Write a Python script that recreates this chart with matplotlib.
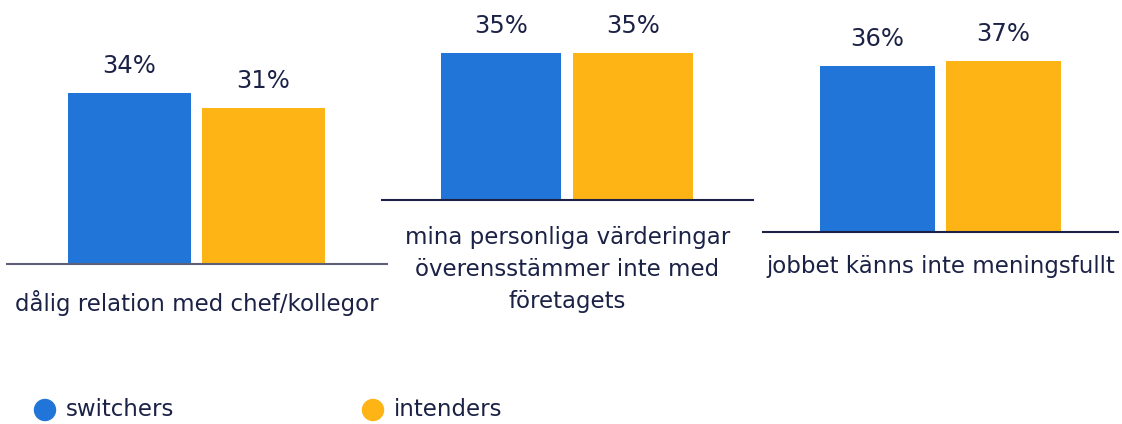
import matplotlib
matplotlib.use("Agg")
import matplotlib.pyplot as plt

# data
categories = ["dålig relation med chef/kollegor",
              "mina personliga värderingar\növerensstämmer inte med\nföretagets",
              "jobbet känns inte meningsfullt"]
series = ["switchers", "intenders"]
switchers = [34, 35, 36]
intenders = [31, 35, 37]

colors = ["#2275d8", "#fdb414"]
text_color = "#1b2246"

plt.rcParams['font.family'] = ['DejaVu Sans']

W, H = 1122, 424
fig = plt.figure(figsize=(W / 100, H / 100), dpi=100)

# panel layout in pixels: left, right, baseline y (from top), px per unit, bar spacing px, bar width px, first bar center
panels = [
    dict(left=7, right=387, base=264, scale=5.03, step=134, bw=123, c0=129.5, lc="#5d6078", gap=26, ls=1.25),
    dict(left=382, right=753, base=200, scale=4.20, step=132, bw=120, c0=501, lc="#1b2246", gap=26, ls=1.5),
    dict(left=763, right=1118, base=232, scale=4.61, step=126, bw=115, c0=877.5, lc="#1b2246", gap=23, ls=1.25),
]

for i, p in enumerate(panels):
    top_px = 20
    h_px = p["base"] - top_px
    ax = fig.add_axes([p["left"] / W, (H - p["base"]) / H, (p["right"] - p["left"]) / W, h_px / H])
    vals = [switchers[i], intenders[i]]
    xs = [0, 1]
    ax.bar(xs, vals, width=p["bw"] / p["step"], color=colors, zorder=2)
    ax.set_xlim((p["left"] - p["c0"]) / p["step"], (p["right"] - p["c0"]) / p["step"])
    ax.set_ylim(0, h_px / p["scale"])
    for x, v in zip(xs, vals):
        ax.annotate(f"{v}%", (x, v), xytext=(0, 11), textcoords="offset points",
                    ha="center", va="bottom", fontsize=17.5, color=text_color)
    ax.annotate(categories[i], (0.5, 0), xycoords="axes fraction",
                xytext=(0, -p["gap"] * 0.72), textcoords="offset points",
                ha="center", va="top", fontsize=16.5, color=text_color, linespacing=p["ls"])
    for s in ["top", "right", "left"]:
        ax.spines[s].set_visible(False)
    ax.spines["bottom"].set_color(p["lc"])
    ax.spines["bottom"].set_linewidth(1.5)
    ax.set_xticks([])
    ax.set_yticks([])
    ax.patch.set_alpha(0)

# legend
leg_x = [45, 373]
for name, col, lx in zip(series, colors, leg_x):
    fig.patches.append(matplotlib.patches.Ellipse((lx / W, (H - 410) / H), 21 / W, 21 / H,
                                                  transform=fig.transFigure, color=col))
    fig.text((lx + 21) / W, (H - 410) / H, name, ha="left", va="center",
             fontsize=16.5, color=text_color)

fig.savefig("out.png", dpi=100)
